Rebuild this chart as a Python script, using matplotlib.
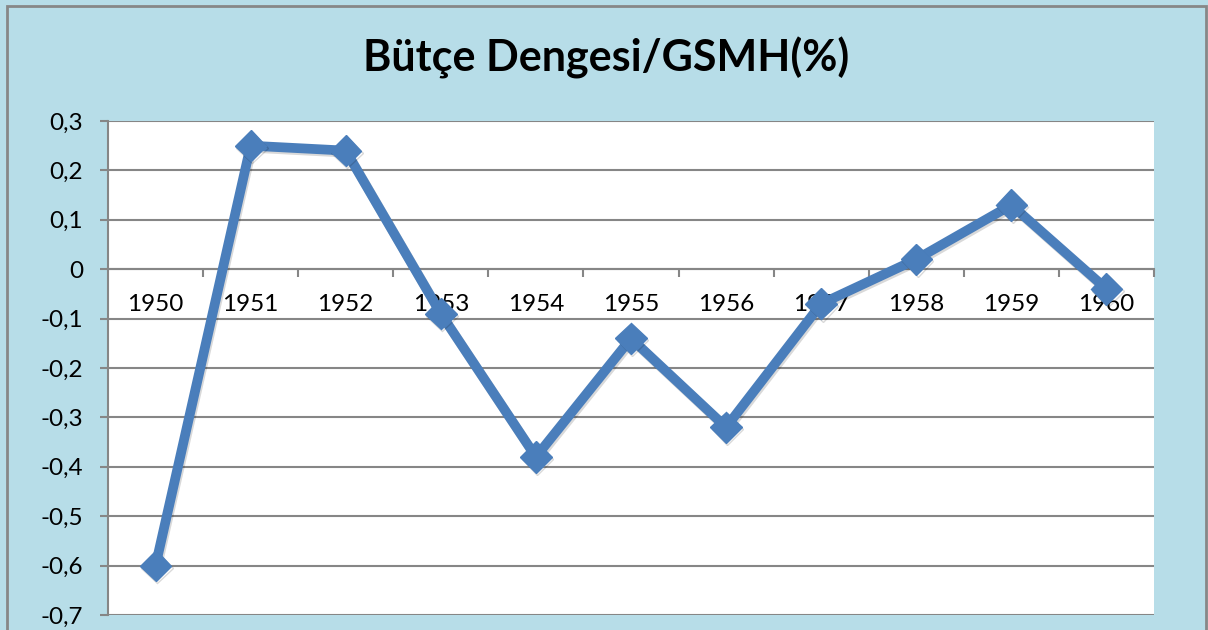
import matplotlib
matplotlib.use("Agg")
import matplotlib.pyplot as plt
from matplotlib.patches import Rectangle
import matplotlib.patheffects as pe

years = ["1950", "1951", "1952", "1953", "1954", "1955", "1956", "1957", "1958", "1959", "1960"]
values = [-0.60, 0.25, 0.24, -0.09, -0.38, -0.14, -0.32, -0.07, 0.02, 0.13, -0.04]
yticks = [0.3, 0.2, 0.1, 0.0, -0.1, -0.2, -0.3, -0.4, -0.5, -0.6, -0.7]
title = "Bütçe Dengesi/GSMH(%)"

W, H = 1208, 630
fig = plt.figure(figsize=(W / 100, H / 100), dpi=100)
bg = "#b7dde8"
fig.patch.set_facecolor(bg)
plt.rcParams["font.family"] = ["Lato", "DejaVu Sans"]

# outer chart border
fig.patches.append(Rectangle((7 / W, -0.05), (1206 - 7) / W, (H - 6) / H + 0.05,
                             transform=fig.transFigure, fill=False,
                             edgecolor="#878787", linewidth=2))

left, right, top, bottom = 108, 1154, 121, 615
ax = fig.add_axes([left / W, (H - bottom) / H, (right - left) / W, (bottom - top) / H])
ax.set_facecolor("white")

x = list(range(len(years)))
ax.plot(x, values, color="#4a7ebb", linewidth=7, marker="D", markersize=16,
        solid_joinstyle="miter", zorder=5,
        path_effects=[pe.SimpleLineShadow(offset=(1, -1.5), alpha=0.15, shadow_color="black"), pe.Normal()])

ax.set_xlim(-0.5, len(years) - 0.5)
ax.set_ylim(-0.7, 0.3)
ax.set_yticks(yticks)
ax.set_yticklabels(["0" if v == 0 else f"{v:.1f}".replace(".", ",") for v in yticks])
ax.grid(axis="y", color="#868686", linewidth=1.5, zorder=1)
ax.set_axisbelow(True)

for s in ["top", "right"]:
    ax.spines[s].set_visible(False)
ax.spines["left"].set_color("#868686")
ax.spines["left"].set_linewidth(1.5)
ax.spines["bottom"].set_position(("data", 0))
ax.spines["bottom"].set_color("#868686")
ax.spines["bottom"].set_linewidth(1.5)

ax.set_xticks(x)
ax.set_xticklabels(years)
ax.set_xticks([i + 0.5 for i in range(len(years))], minor=True)
ax.tick_params(axis="x", which="major", length=0, pad=18, labelsize=17.5)
ax.tick_params(axis="x", which="minor", length=6, width=1.5, color="#868686", direction="out")
ax.tick_params(axis="y", length=6, width=1.5, color="#868686", labelsize=17.5, pad=12)

fig.text((7 + 1206) / 2 / W, (H - 58) / H, title, ha="center", va="center",
         fontsize=31, fontweight="bold")

fig.savefig("out.png", dpi=100, facecolor=bg)
